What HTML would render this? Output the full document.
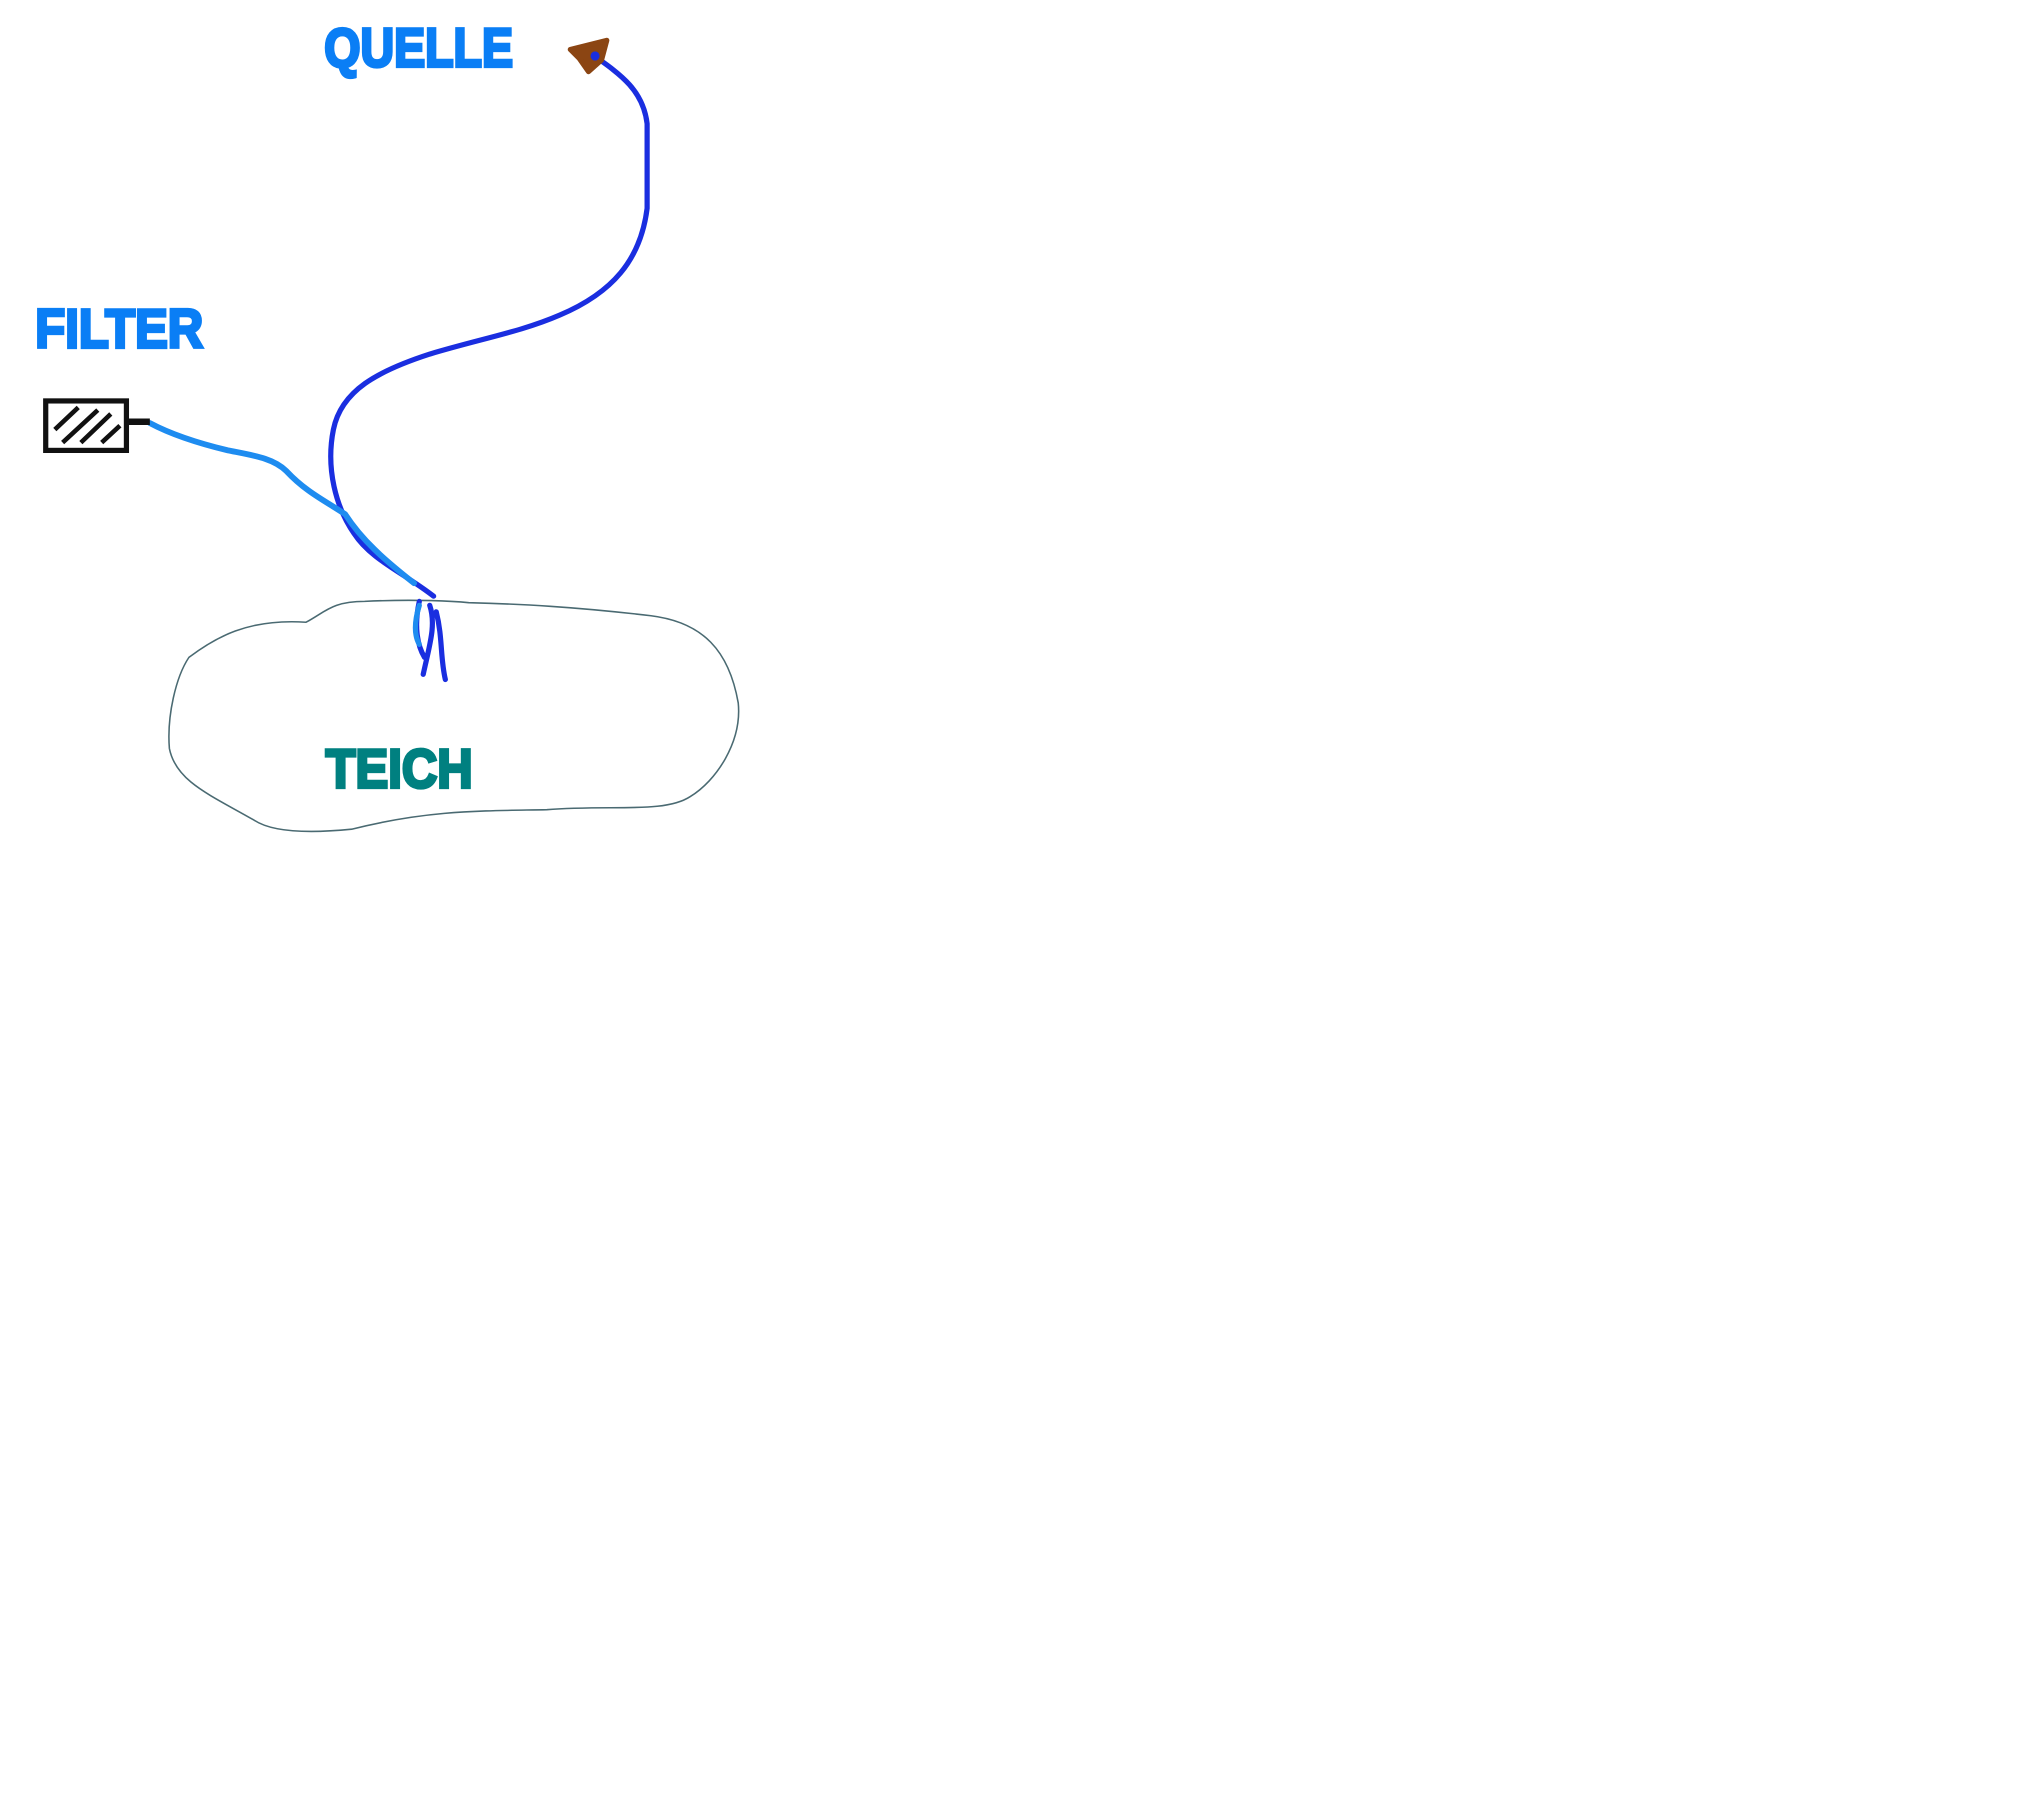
<!DOCTYPE html>
<html><head><meta charset="utf-8"><style>html,body{margin:0;padding:0;background:#fff;}svg{display:block}</style></head>
<body>
<svg width="2018" height="1799" viewBox="0 0 1550 1382" xmlns="http://www.w3.org/2000/svg">
<rect width="1550" height="1382" fill="#fff"/>
<g font-family="Liberation Sans Narrow, Liberation Sans, sans-serif" font-weight="bold" font-size="42" stroke-width="2.5" stroke-linejoin="miter">
<text x="249" y="51" textLength="145" lengthAdjust="spacingAndGlyphs" fill="#0a7ef5" stroke="#0a7ef5">QUELLE</text>
<text x="27" y="267" textLength="129" lengthAdjust="spacingAndGlyphs" fill="#0a7ef5" stroke="#0a7ef5">FILTER</text>
<text x="250" y="605" textLength="113" lengthAdjust="spacingAndGlyphs" fill="#008080" stroke="#008080">TEICH</text>
</g>
<path d="M130,575 C128,550 135,520 145,505 C165,490 190,475 235,478 C250,470 255,462 280,462 C320,460 350,462 360,463 C400,464 440,466 500,473 C540,478 560,500 567,540 C570,570 550,600 530,612 C510,625 470,618 420,622 C370,623 330,622 270,637 C240,640 210,640 195,630 C160,610 135,600 130,575 Z" fill="none" stroke="#4a6a72" stroke-width="1.2"/>
<path d="M455,42 C478,58 494,70 497,95 L497,160 C492,200 470,225 430,242 C400,255 370,260 330,272 C290,285 262,300 256,330 C250,360 258,390 272,410 C285,430 310,440 333,458" fill="none" stroke="#1a2ee0" stroke-width="4" stroke-linecap="round"/>
<path d="M115,325 C130,333 150,340 175,346 C195,350 210,352 220,362 C235,378 250,385 265,395 C278,415 295,430 318,448" fill="none" stroke="#1e8cf0" stroke-width="4.5" stroke-linecap="round"/>
<path d="M322,462 C318,480 320,495 326,505 M330,465 C335,480 330,495 325,518 M335,470 C340,490 338,505 342,522" fill="none" stroke="#1a2ee0" stroke-width="4" stroke-linecap="round"/>
<path d="M322,465 C318,478 318,488 322,495" fill="none" stroke="#1e8cf0" stroke-width="4" stroke-linecap="round"/>
<path d="M438,38 L466,31 L462,46 L452,55 L445,45 Z" fill="#8b4513" stroke="#8b4513" stroke-width="4" stroke-linejoin="round"/>
<circle cx="457" cy="43" r="3.5" fill="#1a2ee0"/>
<rect x="35" y="308" width="62" height="38" fill="none" stroke="#111" stroke-width="4"/>
<path d="M42,330 L60,313 M48,340 L75,315 M62,340 L85,318 M78,340 L92,327" stroke="#111" stroke-width="3.5"/>
<path d="M97,324 L115,324" stroke="#111" stroke-width="5"/>
</svg>
</body></html>
